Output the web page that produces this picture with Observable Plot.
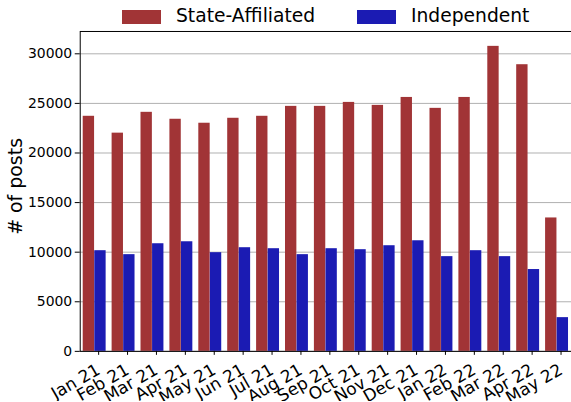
<!DOCTYPE html>
<html><head><meta charset="utf-8">
<script src="https://cdn.jsdelivr.net/npm/d3@7"></script>
<script src="https://cdn.jsdelivr.net/npm/@observablehq/plot@0.6"></script>
<style>
html,body{margin:0;padding:0;background:#fff;overflow:hidden;}
#wrap{width:571px;height:402px;overflow:hidden;position:relative;font-family:"DejaVu Sans",sans-serif;}
#legend{position:relative;height:26px;}
.sw{position:absolute;top:10px;width:39px;height:14px;}
.lt{position:absolute;top:5px;font-size:18.7px;line-height:22px;color:#000;white-space:nowrap;}
#chart svg{display:block;}
</style></head><body>
<div id="wrap"><div id="legend"></div><div id="chart"></div></div>
<script>
const months = ["Jan 21","Feb 21","Mar 21","Apr 21","May 21","Jun 21","Jul 21","Aug 21","Sep 21","Oct 21","Nov 21","Dec 21","Jan 22","Feb 22","Mar 22","Apr 22","May 22"];
const stateAffiliated = [23700,22000,24100,23400,23000,23500,23700,24700,24700,25100,24800,25600,24500,25600,30750,28900,13450];
const independent = [10150,9750,10850,11050,9950,10450,10350,9750,10350,10250,10650,11150,9550,10150,9550,8250,3400];
const seriesNames = ["State-Affiliated","Independent"];
const seriesColors = ["#a13436","#1b1bb3"];
const yTicks = [0,5000,10000,15000,20000,25000,30000];
const yLabel = "# of posts";
const yMax = 32250;

const data = months.flatMap((m,i)=>[
  {month:m, series:seriesNames[0], value:stateAffiliated[i]},
  {month:m, series:seriesNames[1], value:independent[i]}
]);

// legend
const lg = document.getElementById("legend");
const legendPos = [[122,176],[357,411]];
seriesNames.forEach((s,i)=>{
  const sw = document.createElement("div"); sw.className="sw"; sw.style.left=legendPos[i][0]+"px"; sw.style.background=seriesColors[i]; lg.appendChild(sw);
  const t = document.createElement("div"); t.className="lt"; t.style.left=legendPos[i][1]+"px"; t.textContent=s; lg.appendChild(t);
});

const W=573, H=376, mL=80, mR=0, mT=5, mB=50;
const xs = Plot.scale({x:{type:"band", domain:months, range:[mL, W-mR], paddingInner:0.2, paddingOuter:0.1}});
const bw = xs.bandwidth ?? ((W-mL-mR)/months.length*0.8);
const half = bw/2;

const chart = Plot.plot({
  width:W, height:H, marginLeft:mL, marginRight:mR, marginTop:mT, marginBottom:mB,
  style:{fontFamily:"DejaVu Sans, sans-serif", background:"#fff", color:"#000"},
  x:{type:"band", domain:months, paddingInner:0.2, paddingOuter:0.1},
  y:{domain:[0,yMax]},
  color:{domain:seriesNames, range:seriesColors},
  marks:[
    Plot.gridY(yTicks, {stroke:"#b0b0b0", strokeOpacity:1, strokeWidth:1}),
    Plot.barY(data.filter(d=>d.series===seriesNames[0]), {x:"month", y:"value", fill:"series", insetRight:half}),
    Plot.barY(data.filter(d=>d.series===seriesNames[1]), {x:"month", y:"value", fill:"series", insetLeft:half}),
    Plot.frame({stroke:"#000", strokeWidth:1}),
    Plot.axisY(yTicks, {tickSize:5, tickPadding:3, fontSize:14, tickFormat:d3.format("d"), label:yLabel, labelArrow:"none", labelAnchor:"center", labelOffset:72}),
    Plot.axisX({tickSize:4, tickPadding:13, dx:4, tickRotate:-30, fontSize:17, label:null})
  ]
});
document.getElementById("chart").appendChild(chart);
d3.select(chart).selectAll('g[aria-label="y-axis label"] text').style("font-size","19px").attr("dx", 5).text(yLabel);
</script>
</body></html>
